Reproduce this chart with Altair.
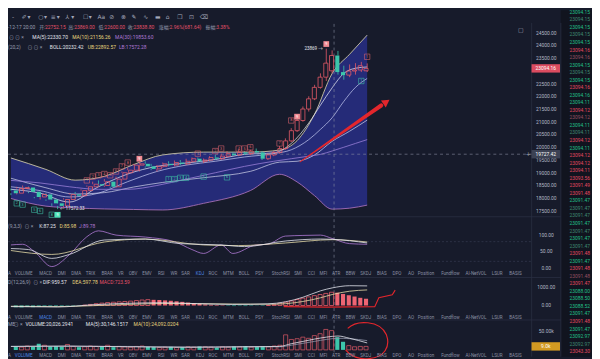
import altair as alt
import pandas as pd
import numpy as np

# ---------------- data ----------------
OPEN = [18300,18200,18380,18420,18250,18050,18150,17950,17800,17700,17950,18150,18100,18300,18450,18550,18500,18650,18450,18750,
        19000,19100,19300,19350,19250,19150,19250,19350,19300,19400,19350,19450,19550,19450,19500,19600,19550,19650,19750,19700,
        19800,19750,19850,19800,19550,19700,19800,19950,20250,20650,21050,21500,21900,22350,22750,23000,23600,22950,22830,22990,
        23030,23000]
CLOSE = [18200,18380,18420,18250,18050,18150,17950,17800,17700,17950,18150,18100,18300,18450,18550,18500,18650,18450,18750,19000,
         19100,19300,19350,19250,19150,19250,19350,19300,19400,19350,19450,19550,19450,19500,19600,19550,19650,19750,19700,19800,
         19750,19850,19800,19550,19700,19800,19950,20250,20650,21050,21500,21900,22350,22750,23300,23600,22950,22830,22990,23030,
         23200,23094.16]
HIGH = [18380,18450,18500,18460,18300,18200,18200,18000,17900,18000,18200,18250,18350,18500,18650,18700,18750,18700,18850,19050,
        19200,19350,19420,19450,19350,19300,19400,19450,19480,19500,19550,19600,19600,19560,19650,19700,19750,19850,19800,19900,
        19850,19900,19950,19850,19750,19850,20050,20350,20750,21150,21600,22000,22450,22900,23869,23800,23780,23200,23250,23300,
        23350,23290]
LOW = [18120,18150,18300,18200,18000,17950,17900,17700,17572.33,17650,17900,18000,18050,18250,18400,18450,18450,18400,18400,18700,
       18950,19050,19050,19200,19100,19050,19200,19250,19250,19300,19300,19400,19400,19380,19450,19500,19500,19600,19650,19650,
       19700,19700,19750,19500,19500,19650,19750,19900,20200,20600,21000,21400,21850,22300,22600,22900,22850,22650,22750,22850,
       22950,22950]
VOLUME_K = [9,7,10,8,16,12,9,10,8,14,9,7,8,10,9,8,12,7,9,8,7,9,10,8,7,6,7,8,6,7,8,7,9,8,7,6,8,7,9,8,
            10,7,8,9,8,10,12,39,27,29,33,30,37,42,53,50,33,21,11,8,9,9]
MACD_HIST = [-90,-100,-80,-90,-70,-40,-30,-40,-30,-20,-20,-10,20,60,100,130,160,180,200,220,
             240,270,300,320,310,300,280,260,230,200,160,120,90,60,40,30,20,-20,-30,-20,
             -30,-20,-10,-20,10,60,120,180,250,330,400,470,540,600,660,723.59,700,630,560,490,420,370]

BAND_IDX = [0,6,11,16,21,26,33,41,46,49,52,55,58,61]
BOLL_UB = [19580,19130,18710,18860,19320,19700,19810,19810,19890,20260,21300,22892.57,23650,24400]
BOLL_LB = [17990,17690,17620,17580,17560,17540,17800,18300,18940,18640,18100,17572.28,17610,17730]
BOLL_MID = [18785,18410,18165,18220,18440,18620,18805,19055,19415,19450,19700,20232.42,20630,21065]

MA_IDX = [0,5,10,15,20,25,30,35,40,45,48,51,53,55,57,59,61]
MA5 = [18350,18200,17850,18450,18950,19250,19380,19520,19720,19780,20150,20950,21650,22330.70,22900,23100,23150]
MA10 = [18450,18300,18050,18200,18650,19050,19300,19450,19620,19750,19900,20300,20700,21156.26,21800,22350,22700]
MA30 = [18700,18600,18450,18350,18350,18500,18750,19000,19250,19450,19550,19650,19720,19853.60,20000,20150,20300]

K_IDX = [0,3,7,10,16,23,29,36,40,47,53,55,61]
K_VAL = [59,56,29,41,85,88,74,70,65,82,88,87.25,76]
D_IDX = [0,7,16,23,33,39,47,55,61]
D_VAL = [53,41,79,88,70,68,76,85.98,79]
J_IDX = [0,2,4,7,10,13,15,18,23,28,31,33,36,38,42,44,47,50,53,55,58,61]
J_VAL = [70,72,50,4,40,95,113,100,94,80,56,44,70,44,70,72,97,99,100,89.78,74,72]

DIF_IDX = [0,8,14,20,26,32,38,44,47,50,53,55,58,61]
DIF = [-60,-80,40,120,150,100,60,90,200,450,800,959.57,1080,1070]
DEA = [-40,-60,-10,60,110,100,80,70,100,220,420,597.78,780,850]

VMA_IDX = [0,10,20,30,40,46,48,50,52,54,56,58,61]
VMA5 = [9,10,8,7,8,9,16,22,28,33,36,30,18]
VMA10 = [9,9,9,7,8,8,12,17,22,27,30,29,24]

TD_UP_I = [13,14,15,16,17,18,19,20,22,32,35,36,39,40,41,46,48,49,54,61]
TD_UP_TXT = ["1","2","3","4","5","6","7","8","9","1","2","3","4","5","6","7","8","9","9","1"]
TD_UP_P = [18700,18850,18900,18950,18900,19050,19250,19400,19550,19750,19850,19950,19950,19950,20000,20150,21050,21200,24050,23550]
TD_UP_FULL = [0,0,0,0,0,0,0,0,1,0,0,0,0,0,0,0,0,1,1,0]
TD_DN_I = [1,2,4,5,7,8,27,28,29,30,33,37,60]
TD_DN_TXT = ["2","3","5","6","8","9","1","2","3","4","5","6","1"]
TD_DN_P = [17800,17750,17550,17500,17350,17350,18750,18750,18800,18800,18850,18820,22600]
TD_DN_FULL = [0,0,0,0,0,1,0,0,0,0,0,0,0]

ARROW_I = [49.5, 63.4]
ARROW_P = [19430, 21640]
ARROW_W = [1.0, 4.2]
MACD_MARK_I = [46.7, 54, 62.3, 63, 65.3, 65.8]
MACD_MARK_V = [-60, -90, -60, 420, 580, 840]

PRICE_TICKS = [24500,24000,23500,22500,22000,21500,21000,20500,20000,19500,19000,18500,18000,17500]
KDJ_TICKS = [100, 50, 0]
MACD_TICKS = [1000, 0]
VOL_TICKS = [50]

TICKER_VAL = ["23094.15","23094.15","23094.15","23094.15","23094.15","23094.16","23094.16","23094.15","23094.15","23094.15",
              "23094.16","23094.16","23094.11","23094.12","23094.12","23094.11","23094.11","23094.12","23094.11","23094.12",
              "23094.12","23094.11","23093.56","23091.49","23091.48","23091.47","23091.47","23091.47","23091.47","23091.47",
              "23091.47","23091.47","23091.48","23091.47","23091.48","23091.48","23091.47","23088.00","23088.50","23088.52",
              "23091.47","23091.48","23091.47","23092.97","23092.97","23043.30"]
TICKER_CLS = ["g","d","g","d","g","r","q","g","d","g","r","g","g","r","q","g","d","r","g","r",
              "r","r","r","r","r","g","d","d","g","d","g","d","r","g","r","q","r","g","g","g",
              "g","r","g","g","d","r"]

TABS = ["A","VOLUME","MACD","DMI","DMA","TRIX","BRAR","VR","OBV","EMV","RSI","WR","SAR","KDJ","ROC","MTM","BOLL",
        "PSY","StochRSI","SMI","CCI","MFI","ATR","BBW","SKDJ","BIAS","DPO","AO","Position","Fundflow","AI-NetVOL","LSUR","BASIS"]
TAB_X = [0,7,32,51,65,80,96,113,124,138,154,167,178,193,206,221,237,254,271,294,308,320,333,347,362,379,395,411,421,445,470,497,515]

# ---------------- layout helpers ----------------
W, H = 592, 351
SX, SY = W / 600.0, H / 359.0
def px(v): return round(v * SX, 2)
def py(v): return round(v * SY, 2)

BG = "#171b2b"
BAND = "#262c7c"
RED = "#e45a68"
TEAL = "#3cc6ab"
WHITE = "#e4e6ee"
YEL = "#e8d67e"
PURP = "#b07ad6"
GREY = "#9a9fb2"
RED_T = "#e4526a"
AXT = "#b4b8c6"
SEP = "#2a2f42"
FONT = "Roboto, 'Noto Sans CJK SC', sans-serif"

XS = alt.Scale(domain=[-0.5, 99.5], range=[0, W], nice=False, zero=False)
REFX = alt.Scale(domain=[0, 600], range=[0, W], nice=False, zero=False)
REFY = alt.Scale(domain=[0, 359], range=[0, H], nice=False, zero=False)
PANELS = {
    "P": ([17500, 24500], 23, 208),
    "K": ([0, 100], 233, 267),
    "M": ([0, 1000], 287, 306),
    "V": ([0, 50], 332, 352),
}

def xq(f="i"):
    return alt.X(f, type="quantitative", scale=XS, axis=None)

def yq(f, p):
    d, top, bot = PANELS[p]
    return alt.Y(f, type="quantitative", axis=None,
                 scale=alt.Scale(domain=d, range=[py(bot), py(top)], nice=False, zero=False))

def texts(rows, size=5.0, align="left", font=FONT, weight="normal"):
    df = pd.DataFrame(rows, columns=["t", "x", "y", "col"])
    return alt.Chart(df).mark_text(align=align, baseline="middle", fontSize=size, font=font,
                                   fontWeight=weight).encode(
        x=alt.X("x", type="quantitative", scale=REFX, axis=None),
        y=alt.Y("y", type="quantitative", scale=REFY, axis=None),
        color=alt.Color("col", type="nominal", scale=None),
        text=alt.Text("t", type="nominal"))

def line(idx, vals, panel, color, width=0.8):
    df = pd.DataFrame({"i": idx, "v": vals})
    return alt.Chart(df).mark_line(color=color, strokeWidth=width, interpolate="monotone").encode(
        x=xq(), y=yq("v", panel))

layers = []

# ticker column background
layers.append(alt.Chart(pd.DataFrame({"a": [0]})).mark_rect(color="#11141f").encode(
    x=alt.value(px(568)), x2=alt.value(W), y=alt.value(0), y2=alt.value(H)))

# separators
for yy in [214, 277, 321]:
    layers.append(alt.Chart(pd.DataFrame({"a": [0]})).mark_rule(color=SEP, strokeWidth=0.8).encode(
        x=alt.value(0), x2=alt.value(px(568)), y=alt.value(py(yy))))
for xx in [538, 568]:
    layers.append(alt.Chart(pd.DataFrame({"a": [0]})).mark_rule(color=SEP, strokeWidth=0.8).encode(
        x=alt.value(px(xx)), y=alt.value(py(13)), y2=alt.value(H)))

# ---------------- main price panel ----------------
bdf = pd.DataFrame({"i": BAND_IDX, "ub": BOLL_UB, "lb": BOLL_LB, "mid": BOLL_MID})
layers.append(alt.Chart(bdf).mark_area(color=BAND, opacity=0.95, interpolate="monotone").encode(
    x=xq(), y=yq("ub", "P"), y2=alt.Y2("lb")))
layers.append(line(BAND_IDX, BOLL_UB, "P", "#e3dcb0", 0.8))
layers.append(line(BAND_IDX, BOLL_LB, "P", "#a66fb8", 0.9))
layers.append(line(BAND_IDX, BOLL_MID, "P", "#d6d9ee", 0.7))
layers.append(line(MA_IDX, MA5, "P", "#eef0fa", 0.7))
layers.append(line(MA_IDX, MA10, "P", "#c9cff5", 0.7))
layers.append(line(MA_IDX, MA30, "P", "#9a7fd8", 0.8))

# crosshair
layers.append(alt.Chart(pd.DataFrame({"v": [19727.42]})).mark_rule(color="#8a8fa3", strokeWidth=0.6, strokeDash=[3, 3]).encode(
    x=alt.value(0), x2=alt.value(px(538)), y=yq("v", "P")))
layers.append(alt.Chart(pd.DataFrame({"i": [55.33]})).mark_rule(color="#8a8fa3", strokeWidth=0.6, strokeDash=[3, 3]).encode(
    x=xq(), y=alt.value(py(14)), y2=alt.value(H)))

cdf = pd.DataFrame({"i": range(len(OPEN)), "o": OPEN, "c": CLOSE, "h": HIGH, "l": LOW})
cdf["up"] = cdf["c"] >= cdf["o"]
cdf["bot"] = cdf[["o", "c"]].min(axis=1)
cdf["top"] = np.maximum(cdf[["o", "c"]].max(axis=1), cdf["bot"] + 18)
for up, col in [(True, RED), (False, TEAL)]:
    sub = cdf[cdf["up"] == up]
    layers.append(alt.Chart(sub).mark_rule(color=col, strokeWidth=0.8).encode(x=xq(), y=yq("h", "P"), y2=alt.Y2("top")))
    layers.append(alt.Chart(sub).mark_rule(color=col, strokeWidth=0.8).encode(x=xq(), y=yq("bot", "P"), y2=alt.Y2("l")))
layers.append(alt.Chart(cdf[cdf["up"]]).mark_bar(size=px(4.2), fillOpacity=0, stroke=RED, strokeWidth=0.8).encode(
    x=xq(), y=yq("bot", "P"), y2=alt.Y2("top")))
layers.append(alt.Chart(cdf[~cdf["up"]]).mark_bar(size=px(4.2), color=TEAL).encode(
    x=xq(), y=yq("bot", "P"), y2=alt.Y2("top")))

# TD markers
up_df = pd.DataFrame({"i": TD_UP_I, "t": TD_UP_TXT, "p": TD_UP_P, "f": TD_UP_FULL})
dn_df = pd.DataFrame({"i": TD_DN_I, "t": TD_DN_TXT, "p": TD_DN_P, "f": TD_DN_FULL})
for df, col, fillc in [(up_df, "#d7636f", "#f08a92"), (dn_df, "#3fbfa5", "#4fe0b8")]:
    layers.append(alt.Chart(df[df["f"] == 0]).mark_point(shape="square", size=30, filled=False, color=col,
                                                         strokeWidth=0.6, opacity=1).encode(x=xq(), y=yq("p", "P")))
    layers.append(alt.Chart(df[df["f"] == 1]).mark_point(shape="square", size=34, filled=True, color=fillc,
                                                         opacity=1).encode(x=xq(), y=yq("p", "P")))
    layers.append(alt.Chart(df[df["f"] == 0]).mark_text(fontSize=3.8, color=col, font=FONT).encode(
        x=xq(), y=yq("p", "P"), text="t:N"))
    layers.append(alt.Chart(df[df["f"] == 1]).mark_text(fontSize=3.8, color="#ffffff", font=FONT).encode(
        x=xq(), y=yq("p", "P"), text="t:N"))

# high / low labels
layers.append(alt.Chart(pd.DataFrame({"i": [53.4], "p": [23869], "t": ["23869 →"]})).mark_text(
    align="right", fontSize=4.6, color=WHITE, font=FONT).encode(x=xq(), y=yq("p", "P"), text="t:N"))
layers.append(alt.Chart(pd.DataFrame({"i": [8.4], "p": [17572.33], "t": ["← 17572.33"]})).mark_text(
    align="left", fontSize=4.6, color=WHITE, font=FONT).encode(x=xq(), y=yq("p", "P"), text="t:N"))

# red hand-drawn arrow
adf = pd.DataFrame({"i": ARROW_I, "p": ARROW_P, "w": ARROW_W})
layers.append(alt.Chart(adf).mark_trail(color="#e3262c").encode(
    x=xq(), y=yq("p", "P"), size=alt.Size("w", type="quantitative", scale=None, legend=None)))
layers.append(alt.Chart(pd.DataFrame({"i": [64.3], "p": [21780]})).mark_point(
    shape="triangle-up", filled=True, color="#e3262c", size=75, angle=56, opacity=1).encode(x=xq(), y=yq("p", "P")))

# ---------------- KDJ panel ----------------
for lv in [80, 20]:
    layers.append(alt.Chart(pd.DataFrame({"v": [lv]})).mark_rule(color="#3b4058", strokeWidth=0.6, strokeDash=[2, 2]).encode(
        x=alt.value(0), x2=alt.value(px(538)), y=yq("v", "K")))
layers.append(line(J_IDX, J_VAL, "K", PURP, 0.8))
layers.append(line(D_IDX, D_VAL, "K", "#e6dba8", 0.8))
layers.append(line(K_IDX, K_VAL, "K", WHITE, 0.8))

# ---------------- MACD panel ----------------
mdf = pd.DataFrame({"i": range(len(MACD_HIST)), "m": MACD_HIST})
mdf["z"] = 0
mdf["prev"] = mdf["m"].shift(1).fillna(mdf["m"])
inc = mdf[(mdf["m"] > 0) & (mdf["m"] >= mdf["prev"])]
dec = mdf[(mdf["m"] > 0) & (mdf["m"] < mdf["prev"])]
neg = mdf[mdf["m"] <= 0]
layers.append(alt.Chart(inc).mark_bar(size=px(4.2), fillOpacity=0, stroke=RED, strokeWidth=0.8).encode(
    x=xq(), y=yq("m", "M"), y2=alt.Y2("z")))
layers.append(alt.Chart(dec).mark_bar(size=px(4.2), color="#ee6573").encode(x=xq(), y=yq("m", "M"), y2=alt.Y2("z")))
layers.append(alt.Chart(neg).mark_bar(size=px(4.2), color=TEAL).encode(x=xq(), y=yq("m", "M"), y2=alt.Y2("z")))
layers.append(line(DIF_IDX, DEA, "M", "#e6dba8", 0.8))
layers.append(line(DIF_IDX, DIF, "M", WHITE, 0.8))
layers.append(alt.Chart(pd.DataFrame({"i": MACD_MARK_I, "v": MACD_MARK_V})).mark_line(
    color="#e3262c", strokeWidth=1.1).encode(x=xq(), y=yq("v", "M")))

# ---------------- Volume panel ----------------
vdf = pd.DataFrame({"i": range(len(VOLUME_K)), "v": VOLUME_K, "up": cdf["up"]})
vdf["z"] = 0
layers.append(alt.Chart(vdf[vdf["up"]]).mark_bar(size=px(4.2), fillOpacity=0, stroke=RED, strokeWidth=0.7).encode(
    x=xq(), y=yq("v", "V"), y2=alt.Y2("z")))
layers.append(alt.Chart(vdf[~vdf["up"]]).mark_bar(size=px(4.2), color=TEAL).encode(
    x=xq(), y=yq("v", "V"), y2=alt.Y2("z")))
layers.append(line(VMA_IDX, VMA10, "V", "#8e93a8", 0.8))
layers.append(line(VMA_IDX, VMA5, "V", WHITE, 0.8))
layers.append(alt.Chart(pd.DataFrame({"i": [60.8], "v": [25]})).mark_point(
    shape="M -0.85 -0.55 C -0.45 -0.95 0.65 -0.95 0.95 -0.25 C 1.15 0.3 0.85 0.8 0.15 0.85 C -0.3 0.9 -0.7 0.75 -0.95 0.45",
    size=1900, filled=False, color="#e3262c", strokeWidth=1.2, opacity=1).encode(x=xq(), y=yq("v", "V")))

# ---------------- axis labels ----------------
for ticks, p in [(PRICE_TICKS, "P"), (KDJ_TICKS, "K"), (MACD_TICKS, "M")]:
    layers.append(alt.Chart(pd.DataFrame({"v": ticks})).mark_text(fontSize=5, color=AXT, font=FONT).encode(
        x=alt.value(px(553)), y=yq("v", p), text=alt.Text("v", type="quantitative", format=".2f")))
layers.append(alt.Chart(pd.DataFrame({"v": VOL_TICKS, "t": [f"{v:.2f}k" for v in VOL_TICKS]})).mark_text(
    fontSize=5, color=AXT, font=FONT).encode(x=alt.value(px(553)), y=yq("v", "V"), text="t:N"))

# value tags (price, crosshair, volume)
TAG = "M -3.4 -1 L 3.4 -1 L 3.4 1 L -3.4 1 Z"
for val, p, col, label in [(23094.16, "P", "#dc4c60", "23094.16"), (19727.42, "P", "#3c4254", "19727.42"),
                           (9.0, "V", "#d39a22", "9.0k")]:
    d = pd.DataFrame({"v": [val], "t": [label]})
    layers.append(alt.Chart(d).mark_point(shape=TAG, size=72, filled=True, color=col, opacity=1).encode(
        x=alt.value(px(552.5)), y=yq("v", p)))
    layers.append(alt.Chart(d).mark_text(fontSize=5, color="#ffffff", font=FONT).encode(
        x=alt.value(px(552.5)), y=yq("v", p), text="t:N"))

# ---------------- texts ----------------
hdr = [
    ("-12-17 20:00", 0, 17.5, GREY), ("开:", 32, 17.5, GREY), ("22752.15", 38, 17.5, RED_T),
    ("高:", 62, 17.5, GREY), ("23869.00", 68, 17.5, RED_T), ("低:", 93, 17.5, GREY), ("22600.00", 99, 17.5, RED_T),
    ("收:", 123, 17.5, GREY), ("23838.80", 129, 17.5, RED_T), ("涨幅:", 155, 17.5, GREY),
    ("2.96%(681.64)", 166, 17.5, RED_T), ("振幅:", 203, 17.5, GREY), ("3.38%", 214, 17.5, RED_T),
    ("⊙  ⊙  ×", 1, 27.5, GREY), ("MA(5):22330.70", 25, 27.5, WHITE), ("MA(10):21156.26", 66, 27.5, YEL),
    ("MA(30):19853.60", 110, 27.5, PURP),
    ("(20,2)", 0, 38.5, GREY), ("⊙  ⊙  ×", 20, 38.5, GREY), ("BOLL:20232.42", 43, 38.5, WHITE),
    ("UB:22892.57", 82, 38.5, YEL), ("LB:17572.28", 114, 38.5, PURP),
    ("(9,3,3)", 0, 223.5, GREY), ("⊙  ×", 17, 223.5, GREY), ("K:87.25", 32, 223.5, WHITE),
    ("D:85.98", 53, 223.5, YEL), ("J:89.78", 73, 223.5, PURP),
    ("D(12,26,9)", 0, 281.5, GREY), ("⊙  ×", 26, 281.5, GREY), ("DIF:959.57", 36, 281.5, WHITE),
    ("DEA:597.78", 66, 281.5, YEL), ("MACD:723.59", 94, 281.5, RED_T),
    ("ME", 0, 325.5, GREY), ("⊙  ×", 6, 325.5, GREY), ("VOLUME:20,026.2941", 18, 325.5, WHITE),
    ("MA(5):30,146.1517", 80, 325.5, WHITE), ("MA(10):24,092.0204", 129, 325.5, YEL),
]
layers.append(texts(hdr, size=5.0))

tabs = []
for yy, sel in [(273.5, "KDJ"), (318.5, "MACD"), (358.5, "VOLUME")]:
    for lab, xx in zip(TABS, TAB_X):
        tabs.append((lab, xx, yy, "#4d86e6" if lab == sel else "#8b90a4"))
layers.append(texts(tabs, size=4.6))

tool = [("-", 4, 7), ("✐", 14, 7), ("▾", 20, 7), ("○", 31, 7), ("▾", 37, 7), ("≡", 44, 7), ("▾", 50, 7),
        ("⅄", 59, 7), ("▾", 65, 7), ("☐", 77, 7), ("▾", 83, 7), ("Aa", 92, 7), ("⊘", 104, 7), ("⊗", 116, 7),
        ("✎", 127, 7), ("∿", 139, 7), ("▬", 151, 7), ("⌂", 162, 7), ("❐", 174, 7), ("⊡", 186, 7), ("⌫", 197, 7),
        ("▢", 524, 20), ("+", 532, 149)]
layers.append(texts([(t, x, y, "#a3a8ba") for t, x, y in tool], size=6, font="'DejaVu Sans', sans-serif"))

# ticker column
TCOL = {"g": "#22c08a", "r": "#e44a62", "d": "#3f8a73", "q": "#955062"}
tdf = pd.DataFrame({"k": range(len(TICKER_VAL)), "t": TICKER_VAL, "col": [TCOL[c] for c in TICKER_CLS]})
layers.append(alt.Chart(tdf).mark_text(align="right", baseline="middle", fontSize=5.0, font=FONT).encode(
    x=alt.value(px(598)),
    y=alt.Y("k", type="quantitative", axis=None,
            scale=alt.Scale(domain=[0, 45], range=[py(1.5), py(353.4)], nice=False, zero=False)),
    color=alt.Color("col", type="nominal", scale=None),
    text="t:N"))

chart = alt.layer(*layers).resolve_scale(
    x="independent", y="independent", color="independent", size="independent"
).properties(
    width=W, height=H, background=BG, padding=0, autosize=alt.AutoSizeParams(type="none")
).configure_view(strokeWidth=0)

chart.save("out.html", embed_options={"renderer": "svg", "actions": False})
